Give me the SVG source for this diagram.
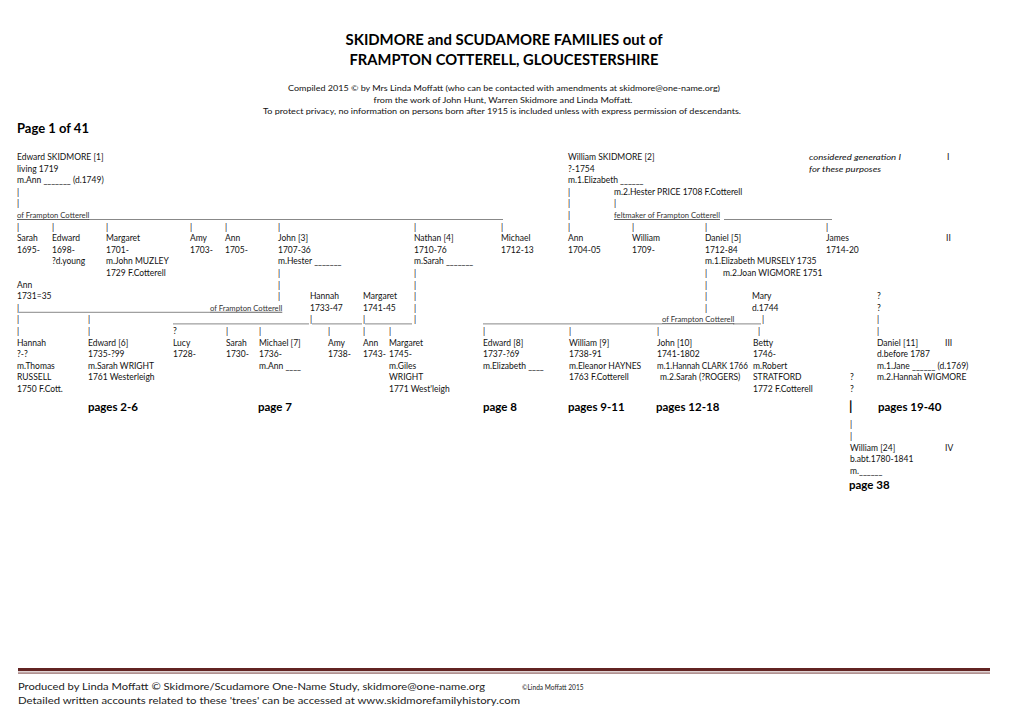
<svg xmlns="http://www.w3.org/2000/svg" width="1020" height="721" viewBox="0 0 1020 721">
<style>
text{font-family:Lato,"Liberation Sans",sans-serif;font-size:8.5px;fill:#111}
.h1{font-size:14.5px;font-weight:700;fill:#000}
.sub{font-size:7.6px}
.pg{font-size:13px;font-weight:700;fill:#000}
.b{font-size:11.5px;font-weight:700;fill:#000}
.bb{font-size:13px;font-weight:700;fill:#000}
.s{font-size:7.7px;text-decoration:underline;fill:#333}
.i{font-style:italic}
.ft{font-size:9.6px;fill:#222}
.fs{font-size:6.6px;fill:#222}
.u{stroke:#555;stroke-width:0.7}
</style>
<rect width="1020" height="721" fill="#fff"/>
<g id="header">
<text class="h1" x="504" y="45" text-anchor="middle" textLength="317" lengthAdjust="spacingAndGlyphs">SKIDMORE and SCUDAMORE FAMILIES out of</text>
<text class="h1" x="504" y="65" text-anchor="middle" textLength="309" lengthAdjust="spacingAndGlyphs">FRAMPTON COTTERELL, GLOUCESTERSHIRE</text>
<text class="sub" x="504" y="91" text-anchor="middle" textLength="432" lengthAdjust="spacingAndGlyphs">Compiled 2015 © by Mrs Linda Moffatt (who can be contacted with amendments at skidmore@one-name.org)</text>
<text class="sub" x="503" y="102.5" text-anchor="middle" textLength="259" lengthAdjust="spacingAndGlyphs">from the work of John Hunt, Warren Skidmore and Linda Moffatt.</text>
<text class="sub" x="502" y="114" text-anchor="middle" textLength="478" lengthAdjust="spacingAndGlyphs">To protect privacy, no information on persons born after 1915 is included unless with express permission of descendants.</text>
<text class="pg" x="17" y="133">Page 1 of 41</text>
</g>
<g id="generations">
<text x="809" y="160" class="i" textLength="92" lengthAdjust="spacingAndGlyphs">considered generation I</text>
<text x="809" y="171.6" class="i" textLength="72" lengthAdjust="spacingAndGlyphs">for these purposes</text>
<text x="947" y="160">I</text>
<text x="946" y="241.2">II</text>
<text x="945" y="345.6">III</text>
<text x="945" y="450.6">IV</text>
</g>
<g id="connectors">
<text x="17" y="194.8">|</text><text x="17" y="206.4">|</text>
<text class="s" x="17" y="218">of Frampton Cotterell</text>
<line class="u" x1="88" y1="219.5" x2="503" y2="219.5"/>
<text x="17" y="229.6">|</text><text x="52" y="229.6">|</text><text x="106" y="229.6">|</text><text x="190" y="229.6">|</text><text x="225" y="229.6">|</text><text x="278" y="229.6">|</text><text x="414" y="229.6">|</text><text x="501" y="229.6">|</text>
<text x="568" y="194.8">|</text><text x="568" y="206.4">|</text><text x="568" y="218">|</text><text x="568" y="229.6">|</text>
<text x="614" y="206.4">|</text>
<text class="s" x="614" y="218">feltmaker of Frampton Cotterell</text>
<line class="u" x1="724" y1="219.5" x2="832" y2="219.5"/>
<text x="632" y="229.6">|</text><text x="705" y="229.6">|</text><text x="826" y="229.6">|</text>
<text x="278" y="276">|</text><text x="278" y="287.6">|</text><text x="278" y="299.2">|</text>
<text x="414" y="276">|</text><text x="414" y="287.6">|</text><text x="414" y="299.2">|</text><text x="414" y="310.8">|</text><text x="414" y="322.4">|</text>
<text x="705" y="276">|</text><text x="705" y="287.6">|</text><text x="705" y="299.2">|</text><text x="705" y="310.8">|</text>
<text x="17" y="310.8">|</text>
<line class="u" x1="19" y1="312.3" x2="210" y2="312.3"/>
<text class="s" x="210" y="310.8">of Frampton Cotterell</text>
<text x="17" y="322.4">|</text><text x="88" y="322.4">|</text>
<line class="u" x1="173" y1="323.9" x2="309" y2="323.9"/>
<text x="310" y="322.4">|</text>
<line class="u" x1="312" y1="323.9" x2="362" y2="323.9"/>
<text x="363" y="322.4">|</text>
<line class="u" x1="365" y1="323.9" x2="412" y2="323.9"/>
<line class="u" x1="483" y1="323.9" x2="662" y2="323.9"/>
<text class="s" x="662" y="322.4">of Frampton Cotterell</text>
<line class="u" x1="733" y1="323.9" x2="761" y2="323.9"/>
<text x="762" y="322.4">|</text>
<text x="877" y="299.2">?</text><text x="877" y="310.8">?</text><text x="877" y="322.4">|</text>
<text x="17" y="334">|</text><text x="88" y="334">|</text><text x="173" y="334">?</text><text x="226" y="334">|</text><text x="259" y="334">|</text><text x="328" y="334">|</text><text x="363" y="334">|</text><text x="389" y="334">|</text><text x="483" y="334">|</text><text x="569" y="334">|</text><text x="657" y="334">|</text><text x="758" y="334">|</text><text x="877" y="334">|</text>
<text x="850" y="380.4">?</text><text x="850" y="392">?</text>
<text class="bb" x="849" y="411">|</text>
<text x="850" y="427">|</text><text x="850" y="439">|</text>
</g>
<g id="p1"><text x="17" y="160">Edward SKIDMORE [1]</text><text x="17" y="171.6">living 1719</text><text x="17" y="183.2">m.Ann  _______  (d.1749)</text></g>
<g id="p2"><text x="568" y="160">William SKIDMORE [2]</text><text x="568" y="171.6">?-1754</text><text x="568" y="183.2">m.1.Elizabeth  ______</text><text x="614" y="194.8">m.2.Hester PRICE 1708 F.Cotterell</text></g>
<g id="sarah1695"><text x="17" y="241.2">Sarah</text><text x="17" y="252.8">1695-</text></g>
<g id="edward1698"><text x="52" y="241.2">Edward</text><text x="52" y="252.8">1698-</text><text x="52" y="264.4">?d.young</text></g>
<g id="margaret1701"><text x="106" y="241.2">Margaret</text><text x="106" y="252.8">1701-</text><text x="106" y="264.4">m.John MUZLEY</text><text x="106" y="276">1729 F.Cotterell</text></g>
<g id="amy1703"><text x="190" y="241.2">Amy</text><text x="190" y="252.8">1703-</text></g>
<g id="ann1705"><text x="225" y="241.2">Ann</text><text x="225" y="252.8">1705-</text></g>
<g id="p3"><text x="278" y="241.2">John [3]</text><text x="278" y="252.8">1707-36</text><text x="278" y="264.4">m.Hester _______</text></g>
<g id="p4"><text x="414" y="241.2">Nathan [4]</text><text x="414" y="252.8">1710-76</text><text x="414" y="264.4">m.Sarah _______</text></g>
<g id="michael1712"><text x="501" y="241.2">Michael</text><text x="501" y="252.8">1712-13</text></g>
<g id="ann1704"><text x="568" y="241.2">Ann</text><text x="568" y="252.8">1704-05</text></g>
<g id="william1709"><text x="632" y="241.2">William</text><text x="632" y="252.8">1709-</text></g>
<g id="p5"><text x="705" y="241.2">Daniel [5]</text><text x="705" y="252.8">1712-84</text><text x="705" y="264.4">m.1.Elizabeth MURSELY 1735</text><text x="723" y="276">m.2.Joan WIGMORE 1751</text></g>
<g id="james1714"><text x="826" y="241.2">James</text><text x="826" y="252.8">1714-20</text></g>
<g id="ann1731"><text x="17" y="287.6">Ann</text><text x="17" y="299.2">1731=35</text></g>
<g id="hannah1733"><text x="310" y="299.2">Hannah</text><text x="310" y="310.8">1733-47</text></g>
<g id="margaret1741"><text x="363" y="299.2">Margaret</text><text x="363" y="310.8">1741-45</text></g>
<g id="mary1744"><text x="752" y="299.2">Mary</text><text x="752" y="310.8">d.1744</text></g>
<g id="hannah"><text x="17" y="345.6">Hannah</text><text x="17" y="357.2">?-?</text><text x="17" y="368.8">m.Thomas</text><text x="17" y="380.4">RUSSELL</text><text x="17" y="392">1750 F.Cott.</text></g>
<g id="p6"><text x="88" y="345.6">Edward [6]</text><text x="88" y="357.2">1735-?99</text><text x="88" y="368.8">m.Sarah WRIGHT</text><text x="88" y="380.4">1761 Westerleigh</text><text class="b" x="88" y="411">pages 2-6</text></g>
<g id="lucy1728"><text x="173" y="345.6">Lucy</text><text x="173" y="357.2">1728-</text></g>
<g id="sarah1730"><text x="226" y="345.6">Sarah</text><text x="226" y="357.2">1730-</text></g>
<g id="p7"><text x="259" y="345.6">Michael [7]</text><text x="259" y="357.2">1736-</text><text x="259" y="368.8">m.Ann ____</text><text class="b" x="258" y="411">page 7</text></g>
<g id="amy1738"><text x="328" y="345.6">Amy</text><text x="328" y="357.2">1738-</text></g>
<g id="ann1743"><text x="363" y="345.6">Ann</text><text x="363" y="357.2">1743-</text></g>
<g id="margaret1745"><text x="389" y="345.6">Margaret</text><text x="389" y="357.2">1745-</text><text x="389" y="368.8">m.Giles</text><text x="389" y="380.4">WRIGHT</text><text x="389" y="392">1771 West'leigh</text></g>
<g id="p8"><text x="483" y="345.6">Edward [8]</text><text x="483" y="357.2">1737-?69</text><text x="483" y="368.8">m.Elizabeth ____</text><text class="b" x="483" y="411">page 8</text></g>
<g id="p9"><text x="569" y="345.6">William [9]</text><text x="569" y="357.2">1738-91</text><text x="569" y="368.8">m.Eleanor HAYNES</text><text x="569" y="380.4">1763 F.Cotterell</text><text class="b" x="568" y="411">pages 9-11</text></g>
<g id="p10"><text x="657" y="345.6">John [10]</text><text x="657" y="357.2">1741-1802</text><text x="657" y="368.8" textLength="91" lengthAdjust="spacingAndGlyphs">m.1.Hannah CLARK 1766</text><text x="660" y="380.4">m.2.Sarah (?ROGERS)</text><text class="b" x="656" y="411">pages 12-18</text></g>
<g id="betty1746"><text x="753" y="345.6">Betty</text><text x="753" y="357.2">1746-</text><text x="753" y="368.8">m.Robert</text><text x="753" y="380.4">STRATFORD</text><text x="753" y="392">1772 F.Cotterell</text></g>
<g id="p11"><text x="877" y="345.6">Daniel  [11]</text><text x="877" y="357.2">d.before 1787</text><text x="877" y="368.8">m.1.Jane ______ (d.1769)</text><text x="877" y="380.4">m.2.Hannah WIGMORE</text><text class="b" x="878" y="411">pages 19-40</text></g>
<g id="p24"><text x="850" y="450.6">William [24]</text><text x="850" y="462.2">b.abt.1780-1841</text><text x="850" y="473.8">m.______</text><text class="b" x="849" y="489">page 38</text></g>
<g id="footer">
<rect x="18" y="668" width="972" height="3.2" fill="#622423"/>
<rect x="18" y="672.6" width="972" height="0.9" fill="#622423"/>
<text class="ft" x="18" y="690" textLength="467" lengthAdjust="spacingAndGlyphs">Produced by Linda Moffatt © Skidmore/Scudamore One-Name Study, skidmore@one-name.org</text>
<text class="fs" x="522" y="689.5">©Linda Moffatt 2015</text>
<text class="ft" x="18" y="704" textLength="502" lengthAdjust="spacingAndGlyphs">Detailed written accounts related to these 'trees' can be accessed at www.skidmorefamilyhistory.com</text>
</g>
</svg>
